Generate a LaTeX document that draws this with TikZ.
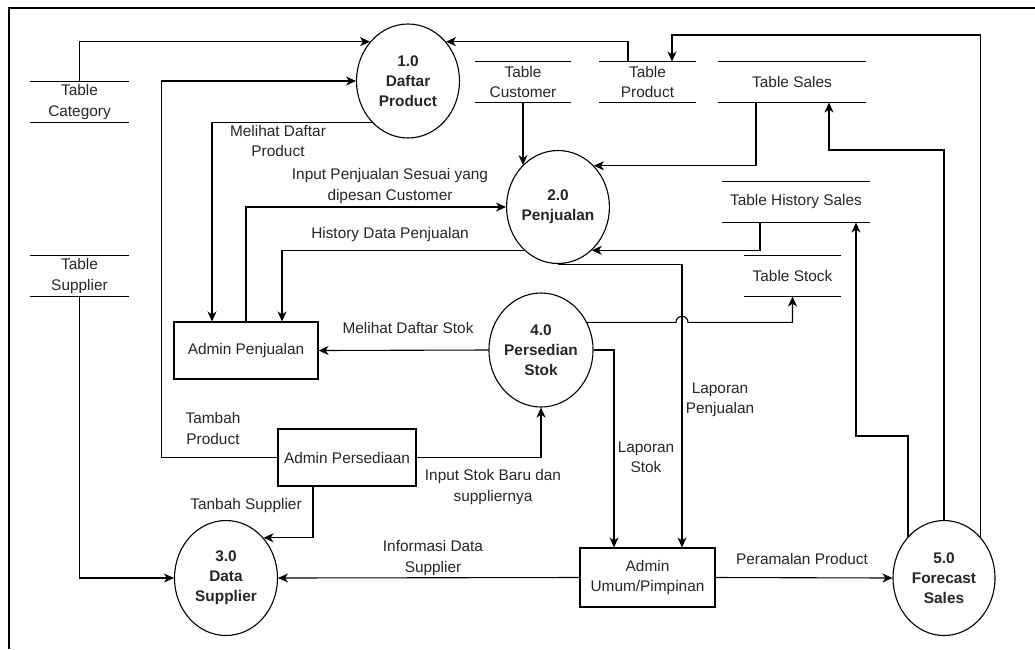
\documentclass[tikz,border=0pt]{standalone}
\usepackage{fontspec}
\setmainfont{Liberation Sans}
\usetikzlibrary{shapes.geometric,arrows.meta,calc}
\definecolor{ink}{HTML}{262626}
\begin{document}
\begin{tikzpicture}[x=1pt,y=-1pt,
  font=\fontsize{15.4}{20.5}\selectfont,
  text=ink,
  line width=1.1pt,
  proc/.style={ellipse,draw,minimum width=103pt,minimum height=114pt,inner sep=0pt,align=center,font=\fontsize{15.4}{20}\selectfont\bfseries},
  ent/.style={rectangle,draw,inner sep=0pt,align=center},
  store/.style={inner sep=0pt,minimum height=40pt,align=center},
  lbl/.style={inner sep=0pt,align=center},
  arr/.style={-{Stealth[length=10pt,width=9pt,inset=3pt]}},
]
\useasboundingbox (0,0) rectangle (1035,649);
% frame
\draw[line width=1.5pt] (9,649) -- (9,8) -- (1035,8);

% processes
\node[proc] (c1) at (408,81) {1.0\\Daftar\\Product};
\node[proc,minimum width=102pt,minimum height=113pt] (c2) at (558,207) {2.0\\Penjualan};
\node[proc,minimum width=101pt] (c4) at (541,350) {4.0\\Persedian\\Stok};
\node[proc,minimum height=115pt] (c3) at (226,578) {3.0\\Data\\Supplier};
\node[proc,minimum width=102pt,minimum height=115pt] (c5) at (944,578) {5.0\\Forecast\\Sales};

% data stores
\node[store,minimum width=97pt] (tcat) at (79.5,102) {Table\\Category};
\node[store,minimum width=97pt] (tsup) at (79.5,276) {Table\\Supplier};
\node[store,minimum width=94pt] (tcus) at (523,82) {Table\\Customer};
\node[store,minimum width=95pt] (tprod) at (647.5,82) {Table\\Product};
\node[store,minimum width=146pt] (tsales) at (792,82) {Table Sales};
\node[store,minimum width=146pt] (ths) at (796,202) {Table History Sales};
\node[store,minimum width=95pt] (tstock) at (792.5,276) {Table Stock};
\foreach \s in {tcat,tsup,tcus,tprod,tsales,ths,tstock}
  \draw (\s.north west) -- (\s.north east) (\s.south west) -- (\s.south east);

% external entities
\node[ent,minimum width=144pt,minimum height=57pt] (apenj) at (246,350.5) {Admin Penjualan};
\node[ent,minimum width=138pt,minimum height=57pt] (apers) at (347,457.5) {Admin Persediaan};
\node[ent,minimum width=135pt,minimum height=59pt] (aumum) at (647.5,577.5) {Admin\\Umum/Pimpinan};

% helper coordinates
\coordinate (jx) at (682,0);
\coordinate (ys) at (0,150);
\coordinate (yp) at (0,35);
\coordinate (yh) at (0,436);

% flows
\draw[arr] (tcat.north) |- (c1.134);
\draw[arr] ([xshift=-19.5pt]tprod.north) |- (c1.46);
\draw[arr] (apers.west) -- ++(-116,0) |- (c1.west);
\draw[arr] (c1.229) -| ([xshift=-34pt]apenj.north);
\draw[arr] (tcus.south) -- (tcus.south |- c2.130);
\draw[arr] ([xshift=-36pt]tsales.south) |- (c2.49);
\draw[arr] ([xshift=-36pt]ths.south) |- (c2.-52);
\draw[arr] (apenj.north) |- (c2.west);
\draw[arr] (c2.232) -| ([xshift=36pt]apenj.north);
\draw[arr] (c2.south) -| ([xshift=34.5pt]aumum.north);
\draw[arr] (c4.31) -- ($(c4.31 -| jx)+(-6,0)$) arc[start angle=180,end angle=0,radius=6pt] -| (tstock.south);
\draw[arr] (c4.east) -| ([xshift=-33.5pt]aumum.north);
\draw[arr] (c4.west) -- (apenj.east);
\draw[arr] (apers.east) -| (c4.south);
\draw[arr] (tsup.south) |- (c3.west);
\draw[arr] ([xshift=-34pt]apers.south) |- (c3.47);
\draw[arr] (aumum.west) -- (c3.east);
\draw[arr] (aumum.east) -- (c5.west);
\draw[arr] (c5.north) -- (c5.north |- ys) -| ([xshift=37pt]tsales.south);
\draw[arr] (c5.48) -- (c5.48 |- yp) -| ([xshift=24.5pt]tprod.north);
\draw[arr] (c5.131) -- (c5.131 |- yh) -| ([xshift=60pt]ths.south);

% labels
\node[lbl] (l1) at (278,141) {Melihat Daftar\\Product};
\node[lbl] (l2) at (390,186) {Input Penjualan Sesuai yang\\dipesan Customer};
\node[lbl] (l3) at (390,235) {History Data Penjualan};
\node[lbl] (l4) at (408,328) {Melihat Daftar Stok};
\node[lbl] (l5) at (213,428.5) {Tambah\\Product};
\node[lbl] (l6) at (493,487) {Input Stok Baru dan\\suppliernya};
\node[lbl] (l7) at (246,506) {Tanbah Supplier};
\node[lbl] (l8) at (433,558) {Informasi Data\\Supplier};
\node[lbl] (l9) at (646,457.5) {Laporan\\Stok};
\node[lbl] (l10) at (720,400) {Laporan\\Penjualan};
\node[lbl] (l11) at (802,559) {Peramalan Product};
\end{tikzpicture}
\end{document}
